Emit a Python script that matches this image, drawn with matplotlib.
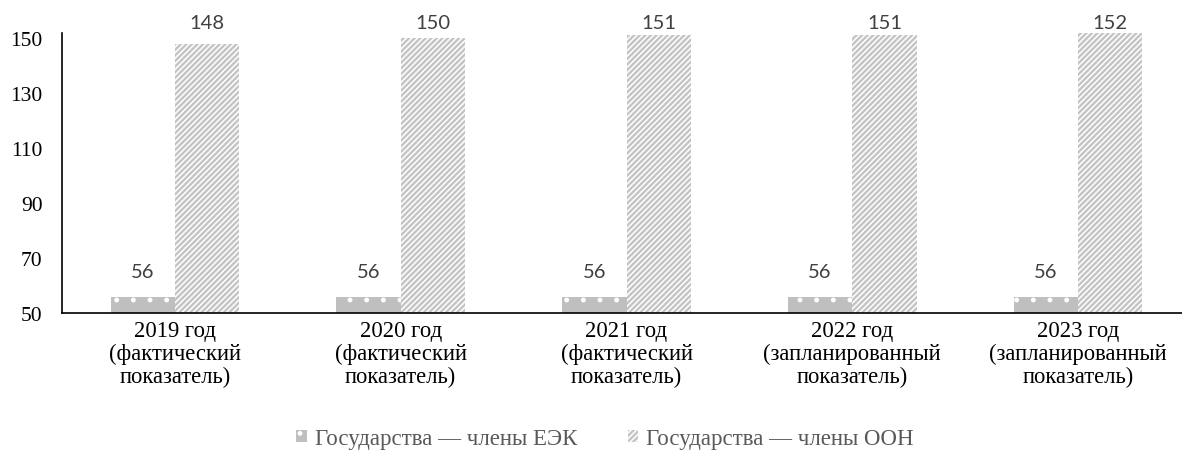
import matplotlib
matplotlib.use("Agg")
import matplotlib.pyplot as plt
import matplotlib.transforms as mtransforms
import numpy as np

categories = ["2019 год\n(фактический\nпоказатель)",
              "2020 год\n(фактический\nпоказатель)",
              "2021 год\n(фактический\nпоказатель)",
              "2022 год\n(запланированный\nпоказатель)",
              "2023 год\n(запланированный\nпоказатель)"]
eek = [56, 56, 56, 56, 56]
oon = [148, 150, 151, 151, 152]
series_names = ["Государства — члены ЕЭК", "Государства — члены ООН"]
yticks = [50, 70, 90, 110, 130, 150]

W, H = 1182, 456
plt.rcParams['hatch.linewidth'] = 1.1
fig = plt.figure(figsize=(W / 100, H / 100), dpi=100)
left, right, top, bottom = 62, 1191, 33.5, 314
ax = fig.add_axes([left / W, 1 - bottom / H, (right - left) / W, (bottom - top) / H])

x = np.arange(len(categories))
w = 0.285
b1 = ax.bar(x - w/2, np.array(eek) - 50, w, bottom=50, color='#bfbfbf',
            edgecolor='white', linewidth=0, hatch='.', label=series_names[0])
b2 = ax.bar(x + w/2, np.array(oon) - 50, w, bottom=50, color='#c4c4c4',
            edgecolor='white', linewidth=0, hatch='//////', label=series_names[1])

lab_kw = dict(ha='center', va='bottom', fontsize=14.5, color='#404040', family='Lato')
for xi, v in zip(x - w/2, eek):
    ax.annotate(str(v), (xi, v), xytext=(0, 12), textcoords='offset points', **lab_kw)
trans = mtransforms.blended_transform_factory(ax.transData, ax.transAxes)
for xi, v in zip(x + w/2, oon):
    ax.text(xi, 1.004, str(v), transform=trans, clip_on=False, **lab_kw)

ax.set_xlim(-0.5, len(categories) - 0.5)
ax.set_ylim(50, 152)
ax.set_yticks(yticks)
ax.set_yticklabels([str(t) for t in yticks], family='Liberation Serif', fontsize=15.5)
ax.set_xticks(x)
ax.set_xticklabels(categories, family='Liberation Serif', fontsize=16.3, linespacing=1.12)
ax.tick_params(axis='both', length=0)
ax.tick_params(axis='y', pad=14)
ax.tick_params(axis='x', pad=5)
for s in ['top', 'right']:
    ax.spines[s].set_visible(False)
ax.spines['left'].set_linewidth(1.2)
ax.spines['bottom'].set_linewidth(1.2)

leg = fig.legend(handles=[b1, b2], loc='center', bbox_to_anchor=(605 / W, 1 - 440 / H),
                 ncol=2, frameon=False, handlelength=0.45, handleheight=0.45,
                 handletextpad=0.35, columnspacing=2.2, borderpad=0,
                 prop={'family': 'Liberation Serif', 'size': 16.5})
for t in leg.get_texts():
    t.set_color('#595959')

fig.savefig('out.png', dpi=100)
